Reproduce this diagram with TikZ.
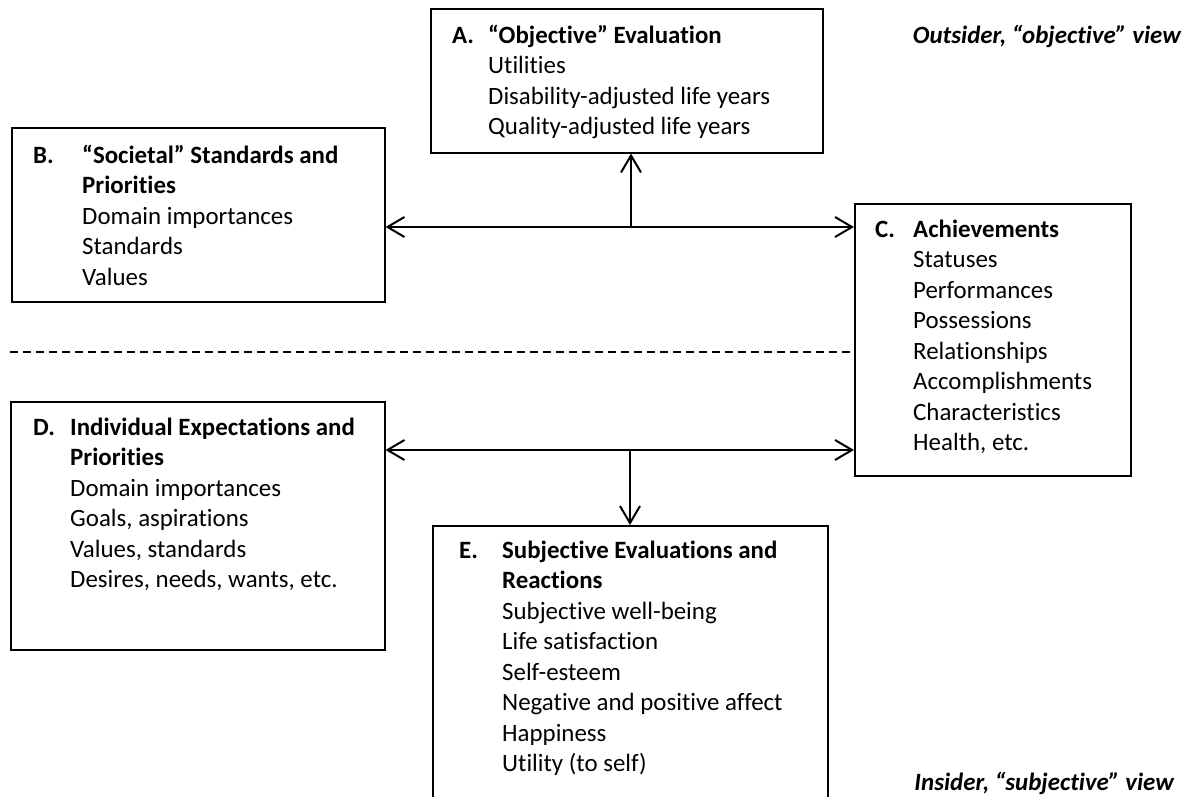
\documentclass[tikz,border=0pt]{standalone}
\usepackage{fontspec}
\setmainfont{Carlito}[Ligatures={TeX,NoCommon}]
\usepackage{tikz}
\usetikzlibrary{calc,positioning,arrows.meta}
\definecolor{fundo}{HTML}{FFFFFF}
\definecolor{traco}{HTML}{000000}
\newcommand{\caixa}[4]{\node[caixa,minimum width=#3pt,minimum height=#4pt] (#1) at (#2) {};}
\newcommand{\recuo}[1]{\begin{tabular}[t]{@{}p{#1pt}@{}l@{}}}

\begin{document}
\begin{tikzpicture}[x=1pt,y=-1pt,
    caixa/.style={draw=traco,line width=1.5pt,anchor=north west,inner sep=0pt},
    texto/.style={inner sep=0pt,anchor=base west,font=\fontsize{24.9}{30.5}\selectfont},
    vista/.style={inner sep=0pt,anchor=base east,font=\fontsize{24.9}{30.5}\selectfont\bfseries\itshape},
    ponta/.tip={Straight Barb[length=17pt,width=20pt]},
    seta/.style={traco,line width=2pt,-ponta},
    setadupla/.style={traco,line width=2pt,ponta-ponta}]
  \useasboundingbox[fill=fundo] (0,0) rectangle (1189,796);
  % caixas
  \caixa{A}{430,8}{392}{144}
  \caixa{B}{11,127}{373}{174}
  \caixa{C}{854,203}{276}{272}
  \caixa{D}{10,401}{374}{248}
  \caixa{E}{432,525}{395}{290}
  % textos
  \node[texto] (A-txt) at (452,43) {\recuo{36}
    \textbf{A.} & \textbf{“Objective” Evaluation}\\
    & Utilities\\
    & Disability-adjusted life years\\
    & Quality-adjusted life years
  \end{tabular}};
  \node[texto] (B-txt) at (33,163) {\recuo{49}
    \textbf{B.} & \textbf{“Societal” Standards and}\\
    & \textbf{Priorities}\\
    & Domain importances\\
    & Standards\\
    & Values
  \end{tabular}};
  \node[texto] (C-txt) at (875,237) {\recuo{38}
    \textbf{C.} & \textbf{Achievements}\\
    & Statuses\\
    & Performances\\
    & Possessions\\
    & Relationships\\
    & Accomplishments\\
    & Characteristics\\
    & Health, etc.
  \end{tabular}};
  \node[texto] (D-txt) at (33,435) {\recuo{37}
    \textbf{D.} & \textbf{Individual Expectations and}\\
    & \textbf{Priorities}\\
    & Domain importances\\
    & Goals, aspirations\\
    & Values, standards\\
    & Desires, needs, wants, etc.
  \end{tabular}};
  \node[texto] (E-txt) at (459,558) {\recuo{43}
    \textbf{E.} & \textbf{Subjective Evaluations and}\\
    & \textbf{Reactions}\\
    & Subjective well-being\\
    & Life satisfaction\\
    & Self-esteem\\
    & Negative and positive affect\\
    & Happiness\\
    & Utility (to self)
  \end{tabular}};
  \node[vista] (fora) at (1181,43) {Outsider, “objective” view};
  \node[vista] (dentro) at (1174,790) {Insider, “subjective” view};
  % setas
  \coordinate (jsup) at (631,227);
  \coordinate (jinf) at (630,450);
  \draw[setadupla] (B.east |- jsup) -- (C.west |- jsup);
  \draw[seta] (jsup) -- (jsup |- A.south);
  \draw[setadupla] (D.east |- jinf) -- (C.west |- jinf);
  \draw[seta] (jinf) -- (jinf |- E.north);
  % divisoria
  \coordinate (divisa) at (10,352);
  \draw[traco,line width=1.5pt,dash pattern=on 8pt off 5pt] (divisa) -- (C.west |- divisa);
\end{tikzpicture}
\end{document}
